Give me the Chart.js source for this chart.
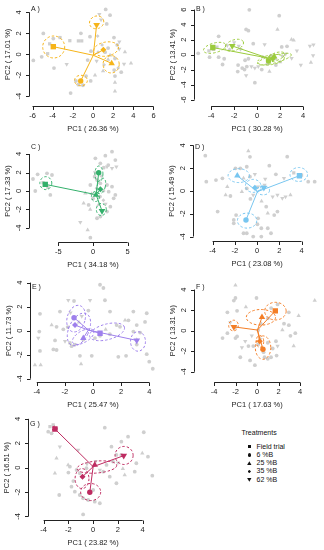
<!DOCTYPE html>
<html>
<head>
<meta charset="utf-8">
<script src="https://cdn.jsdelivr.net/npm/chart.js@4/dist/chart.umd.min.js"></script>
<style>
  body { margin: 0; background: #fff; width: 324px; height: 550px; position: relative; overflow: hidden;
         font-family: "Liberation Sans", Arial, sans-serif; }
  canvas { position: absolute; }
  #legend { position: absolute; left: 0; top: 0; color: #111; font-size: 7px; }
  #legend div { position: absolute; white-space: nowrap; line-height: 8px; }
  #legend span { position: absolute; background: #111; }
</style>
</head>
<body>
<div id="legend"></div>
<script>
// treatments, in the order used by every centroid list below
const treatments = ['Field trial', '6 %B', '25 %B', '35 %B', '62 %B'];
const panelIds = ['A', 'B', 'C', 'D', 'E', 'F', 'G'];
const pc1Pct = ['26.36', '30.28', '34.18', '23.08', '25.47', '17.63', '23.82'];
const pc2Pct = ['17.01', '13.41', '17.33', '15.49', '11.73', '13.31', '16.51'];

// tick labels
const ticksA_x = [-6, -4, -2, 0, 2, 4, 6];
const ticksB_y = [-6, -4, -2, 0, 2, 4, 6];
const ticksC_x = [-5, 0, 5];
const ticks4 = [-4, -2, 0, 2, 4];

// samples: [PC1, PC2, treatment index]
const greyA = [[1.26,4.28,1],[0.63,3.82,4],[1.69,3.73,1],[0.8,3.3,4],[1.36,2.9,1],[-4.93,1.99,1],[-0.3,1.68,1],[-3.94,1.5,1],
  [-3.27,1.6,0],[-1.45,1.28,0],[-1.12,1.28,0],[0.46,1.74,3],[2.08,1.6,1],[2.61,1.19,4],[-5.09,-0.24,1],[-5.92,-0.58,1],
  [-4.5,0.06,0],[-2.61,-0.95,4],[-0.53,-0.55,1],[0.36,-0.64,4],[1.69,-0.09,2],[3.17,0.21,2],[2.18,-0.4,1],[3.08,-0.92,4],
  [3.77,-0.86,2],[2.5,-1.3,3],[2.1,-1.5,1],[-3.87,-1.31,1],[0.2,-1.99,2],[-0.69,-2.08,1],[-1.69,-2.54,1],[-0.23,-2.54,1],
  [-1.45,-2.9,1],[-1.0,-2.95,1],[2.18,-2.08,1],[2.18,-2.69,2],[2.18,-3.52,2],[-2.22,-3.7,1],[1.1,-1.0,3],[2.8,-1.7,1],
  [0.9,0.9,3],[1.5,0.6,1],[-0.2,0.3,1],[0.5,0.2,3],[1.2,0.2,1],[1.5,-0.5,2],[2.6,0.5,4],[1.0,-1.6,2],[2.4,0.9,1],
  [-1.2,2.0,1],[-2.3,1.3,0],[-4.3,1.0,0]];
const greyB = [[-0.68,5.96,1],[1.92,5.19,1],[-0.96,3.36,1],[-0.76,3.19,1],[1.77,3.36,2],[-3.35,2.43,1],[2.99,2.0,2],[3.18,1.9,2],
  [4.59,1.15,4],[4.9,1.3,4],[-5.13,0.17,1],[-4.2,0.51,0],[-4.14,-0.34,1],[-3.35,-0.34,1],[-2.87,-0.55,1],[-3.01,-1.32,1],
  [-2.4,0.7,3],[-1.6,1.15,4],[-1.45,0.7,4],[-0.34,1.45,1],[0.65,1.36,4],[2.14,1.02,1],[2.6,1.1,1],[3.46,0.51,4],
  [2.48,0.09,4],[4.87,-0.13,4],[4.68,-1.06,2],[3.8,-1.4,4],[-1.66,-1.4,1],[-1.3,-1.8,1],[-1.1,-2.0,1],[-0.9,-1.6,1],
  [-1.69,-2.26,1],[-0.5,-1.6,4],[-0.2,-1.8,4],[0.1,-1.6,4],[-0.96,-2.77,4],[-0.2,-3.74,1],[1.07,-2.26,2],[0.4,-2.0,1],
  [1.63,-1.4,1],[-0.76,-0.55,1],[-1.05,-0.75,1],[0.5,-0.3,3],[1.2,-0.1,3],[1.6,-0.6,2],[2.0,-1.0,2],[0.9,-1.2,1],
  [3.0,-0.5,4],[2.2,-0.2,3],[-3.8,0.7,0],[-3.5,1.0,0],[-2.0,1.6,4],[-2.6,1.2,4]];
const greyC = [[2.74,4.25,1],[1.78,3.82,1],[0.34,3.53,1],[3.22,3.35,1],[1.06,2.99,1],[2.02,2.63,4],[1.54,2.52,1],[3.37,2.63,4],
  [2.74,2.45,4],[2.2,2.8,1],[-7.98,1.8,1],[-6.63,1.91,1],[-5.91,1.73,1],[-8.65,1.3,1],[-8.32,0,1],[-6.15,-0.43,1],
  [-7.2,0.9,0],[-6.5,0.4,0],[0.24,1.55,1],[0.58,1.19,1],[1.06,0.83,1],[2.02,0.65,1],[2.74,0.47,1],[-0.38,0.65,1],
  [-1.1,-0.25,2],[-1.35,-1.33,2],[-0.63,-1.51,1],[2.98,-0.79,1],[3.22,-0.43,1],[2.5,-1.7,1],[2.02,-2.23,1],[1.06,-2.77,1],
  [0.58,-2.95,1],[-1.83,-3.39,4],[-0.77,-4.22,2],[-0.38,-5.05,1],[1.54,0.0,3],[2.26,-0.07,1],[1.5,-1.0,3],[0.0,-0.8,1],
  [0.8,-1.5,2],[-0.4,-2.0,2],[1.8,-1.4,4],[0.3,2.0,4],[1.2,1.6,3],[0.5,0.3,3],[-0.2,-0.3,2],[1.0,-0.6,1]];
const greyD = [[-4.66,3.1,1],[-0.79,3.51,2],[-0.64,3.0,1],[1.1,2.22,1],[2.71,3.01,1],[1.69,1.46,1],[-4.57,0.82,1],[-3.7,0.96,1],
  [-3.12,1.11,1],[-1.95,1.99,1],[-1.51,1.99,1],[-0.93,2.13,1],[-1.22,1.11,2],[-0.64,1.26,1],[-0.2,1.46,4],[0.73,1.05,4],
  [2.42,1.11,4],[-2.68,0.38,2],[-2.83,-0.35,2],[-2.4,-0.44,1],[-1.37,-0.06,2],[-0.93,0.23,1],[-0.35,-0.35,4],[0.09,0.38,4],
  [0.67,0.53,4],[1.4,-0.5,4],[1.83,-0.35,4],[2.27,-0.64,4],[2.56,-0.5,4],[3.0,-0.35,2],[4.6,0.82,1],[5.18,0.82,1],
  [4.0,1.4,0],[3.3,1.6,0],[-3.55,-1.81,1],[-1.89,-2.11,1],[-2.1,-2.54,1],[-2.1,-2.84,1],[0.09,-2.4,1],[0.03,-2.92,1],
  [0.38,-3.27,1],[0.96,-1.96,2],[1.54,-2.11,1],[1.83,-1.81,1],[-0.93,-3.71,1],[-1.22,-3.71,1],[-0.35,-4.0,1],[0.38,-4.0,1],
  [0.96,-3.27,1],[1.25,-3.71,1],[0.82,-1.38,1],[-0.6,-0.7,1],[0.4,-0.9,2]];
const greyE = [[0.5,3.82,1],[0.74,3.55,1],[-1.35,2.47,1],[-0.21,2.53,4],[-1.76,2.53,4],[0.85,2.53,1],[-3.77,1.4,1],[-2.35,1.59,1],
  [-0.33,1.67,1],[1.21,1.59,1],[2.87,1.59,1],[3.82,1.45,1],[-2.94,0.46,2],[-2.59,0.32,1],[-2.11,0.11,1],[-3.82,-0.08,1],
  [-3.89,-0.62,4],[-2.7,-0.81,1],[-1.99,-0.89,4],[1.68,0.46,1],[1.92,0.32,1],[2.28,0.86,2],[2.52,0.86,1],[3.11,0.46,1],
  [3.7,0.73,1],[2.87,-0.08,1],[3.35,-0.16,1],[-3.77,-1.69,1],[-2.82,-1.56,1],[-2.59,-1.61,1],[-0.93,-2.1,1],[-0.09,-2.1,1],
  [1.8,-2.18,1],[2.35,-2.1,1],[3.82,-1.96,1],[3.11,-0.75,2],[3.11,-1.16,1],[4.0,-2.58,1],[4.25,-3.17,1],[-4.13,-2.85,2],
  [-3.72,-2.85,2],[-0.85,-2.77,2],[-1.64,-1.02,1],[-1.52,-1.29,1],[-1.28,-1.16,1],[-0.69,-0.75,1],[0.14,-0.62,1],[0.5,-0.43,1],
  [1.2,-0.3,1],[0.9,0.1,2],[-1.8,0.3,1],[-1.0,0.7,2],[-1.6,1.5,4],[-0.8,1.2,4]];
const greyF = [[-2.02,4.42,2],[-2.02,3.18,1],[-2.17,2.93,1],[-1.05,2.31,2],[-0.06,3.18,1],[1.9,2.55,1],[-2.77,1.78,1],[-1.87,1.93,1],
  [2.95,1.78,1],[3.86,1.46,2],[5.36,2.93,2],[-3.22,-0.72,1],[-2.77,-0.25,1],[-1.87,-0.56,1],[-2.02,-0.72,1],[-1.11,-1.03,4],
  [-0.81,-1.5,1],[-1.42,-1.65,4],[-0.36,-1.5,1],[0.09,-1.34,1],[0.99,-1.18,1],[1.75,-1.03,1],[1.9,-1.5,4],[2.35,0.06,2],
  [2.5,0.68,1],[2.95,0.53,1],[3.1,-0.5,1],[3.55,-0.25,1],[-1.57,-2.59,1],[-0.66,-2.9,1],[-0.21,-3.36,1],[0.69,-2.59,1],
  [1.29,-2.59,1],[0.99,-2.74,1],[1.81,-2.43,1],[3.4,-1.5,2],[1.45,-1.74,1],[0.1,0.06,1],[0.4,0.68,2],[1.0,1.2,1],
  [1.3,2.2,1],[-0.5,-0.5,4],[0.3,-0.8,3],[0.6,-2.1,1],[-2.5,0.8,4],[-2.0,0.3,4]];
const greyG = [[-3.49,3.36,0],[-3.23,3.5,0],[-3.63,2.95,1],[-3.36,2.81,1],[0.94,3.28,1],[4.09,2.9,1],[2.82,2.54,1],[2.28,2.13,1],
  [-2.69,1.72,4],[-1.21,1.45,4],[-2.96,0.77,2],[-2.02,0.22,2],[-1.88,0.08,1],[-3.09,-0.46,2],[-1.34,-0.19,1],[-1.08,-0.46,1],
  [-0.54,-0.05,1],[0.54,-0.19,4],[0.81,-0.33,1],[1.08,0.22,1],[1.48,1.72,1],[1.88,1.04,1],[2.28,1.04,1],[3.49,0.36,1],
  [3.97,1.18,2],[4.43,0.9,1],[3.36,-0.33,1],[4.78,-0.66,1],[1.88,-1.28,1],[2.55,-0.6,2],[-2.74,-2.24,1],[-1.75,-1.56,1],
  [-1.48,-1.97,1],[-1.08,-2.24,1],[-0.81,-2.51,1],[-0.4,-2.65,1],[0.13,-2.79,1],[0.54,-2.92,1],[-0.81,-3.83,1],[1.34,-0.74,1],
  [0.0,-1.83,1],[2.4,-0.1,2],[1.6,0.5,1],[0.2,0.5,4],[-0.5,0.3,4],[-2.0,-0.4,1],[-1.6,-1.1,1],[2.0,0.4,4]];

// treatment centroids [PC1, PC2], same order as treatments
const centA = [[-3.94,0.73],[-1.22,-2.54],[1.85,-0.86],[1.03,0.43],[0.36,2.81]];
const centB = [[-3.86,0.94],[0.99,-0.85],[1.49,-0.26],[1.35,-0.55],[-2.17,1.15]];
const centC = [[-6.88,0.72],[0.82,1.98],[0.43,-0.43],[1.06,0.18],[1.3,-2.16]];
const centD = [[3.81,1.34],[-1.0,-2.55],[-1.78,1.34],[-0.2,0.29],[0.61,0.29]];
const centE = [[0.5,-0.22],[-1.35,1.08],[-0.69,-0.62],[-1.28,0.46],[3.11,-0.81]];
const centF = [[1.69,1.93],[0.54,-1.81],[0.45,1.31],[0.24,-1.03],[-2.17,0.37]];
const centG = [[-3.09,3.17],[-0.27,-2.02],[0.13,0.22],[-0.86,-0.74],[2.47,0.98]];

// overall centre each spider line starts from
const midA = [0.03,-0.09], midB = [0.9,-0.45], midC = [0.45,-0.4], midD = [0.03,-0.06];
const midE = [-0.33,0.05], midF = [0.03,0.06], midG = [0.0,0.08];

// dispersion ellipses: [centre PC1, centre PC2, radius PC1, radius PC2, tilt deg]
const ellA = [[-3.9,0.7,1.09,1.05,0],[0.36,3.05,0.72,0.6,-20],[-1.2,-2.5,0.64,0.5,0],[1.3,0.5,1.24,0.67,-10],[1.8,-0.95,0.8,0.83,0]];
const ellB = [[-2.0,1.25,0.85,0.7,-20],[-3.7,0.9,1.0,0.64,-15],[1.5,-0.6,1.52,0.51,-15],[1.2,-0.7,1.18,0.64,-10],[1.6,-0.3,0.85,0.51,-20]];
const ellC = [[-6.8,0.85,0.86,0.7,0],[0.85,1.85,0.58,0.86,0],[1.2,0.55,0.58,0.86,15],[1.2,-2.0,0.72,0.65,0],[0.35,-0.6,0.58,0.54,0]];
const ellD = [[3.75,1.45,0.79,0.61,0],[-1.65,1.35,0.96,0.61,0],[-0.35,0.45,0.7,0.57,0],[0.55,0.05,0.57,0.39,0],[-0.9,-2.6,0.87,0.66,0]];
const ellE = [[-1.2,1.0,0.64,1.13,15],[-1.0,0.1,0.71,1.45,25],[-0.7,-0.5,0.85,0.48,-30],[1.0,-0.1,1.28,0.65,-15],[3.2,-0.9,0.53,0.81,0]];
const ellF = [[1.7,1.9,1.0,0.86,0],[0.35,1.3,1.36,0.76,0],[-2.2,0.5,0.45,0.52,0],[0.55,-1.65,0.72,1.14,0],[0.25,-1.05,0.36,0.57,0]];
const ellG = [[2.5,1.0,0.73,0.74,0],[-0.2,-2.0,0.81,0.7,0],[0.3,0.05,1.61,0.49,-5],[-0.9,-0.9,0.56,0.82,0],[-3.1,3.2,0.2,0.2,0]];

// ---- styling / layout ----
const FONT = '"Liberation Sans", Arial, sans-serif';
const GREY = '#CFCFCF';
const shapes = ['rect', 'circle', 'triangle', 'rectRot', 'triangle'];
const greyRad = [2.3, 1.9, 2.5, 1.9, 2.5];
const centRad = [3.8, 2.7, 3.7, 3.0, 3.9];

const panels = [
  { grey: greyA, cent: centA, mid: midA, ell: ellA, color: '#F6B418', xt: ticksA_x, yt: ticks4,
    box: [0, 0, 162, 135], pad: [29, 0, 5, 29], xlim: [-6.35, 6.35], ylim: [-4.93, 4.8], labelY: 9.5 },
  { grey: greyB, cent: centB, mid: midB, ell: ellB, color: '#9BCB3C', xt: ticks4, yt: ticksB_y,
    box: [162, 0, 162, 135], pad: [32.3, 0, 0.3, 29.5], xlim: [-5.47, 5.47], ylim: [-6.78, 6.74], labelY: 9.5 },
  { grey: greyC, cent: centC, mid: midC, ell: ellC, color: '#33B06B', xt: ticksC_x, yt: ticks4,
    box: [0, 135, 162, 140], pad: [29.3, 4.7, 5.3, 32.7], xlim: [-9.18, 9.18], ylim: [-5.55, 5.55], labelY: 12 },
  { grey: greyD, cent: centD, mid: midD, ell: ellD, color: '#78C6F0', xt: ticks4, yt: ticks4,
    box: [162, 135, 162, 140], pad: [31.3, 6, 0.2, 34], xlim: [-5.74, 5.66], ylim: [-4.39, 4.39], labelY: 11.7 },
  { grey: greyE, cent: centE, mid: midE, ell: ellE, color: '#9E80EC', xt: ticks4, yt: ticks4,
    box: [0, 275, 162, 135], pad: [30, 0.7, 6, 27.7], xlim: [-4.48, 4.48], ylim: [-4.3, 4.3], labelY: 11.7 },
  { grey: greyF, cent: centF, mid: midF, ell: ellF, color: '#F47E26', xt: ticks4, yt: ticks4,
    box: [162, 275, 162, 135], pad: [32.3, 1.7, 0.3, 27.7], xlim: [-5.85, 5.85], ylim: [-5.03, 5.03], labelY: 11.7 },
  { grey: greyG, cent: centG, mid: midG, ell: ellG, color: '#BE2B61', xt: ticks4, yt: ticks4,
    box: [0, 405, 162, 145], pad: [28.3, 10.8, 3.7, 30.5], xlim: [-5.24, 5.24], ylim: [-4.25, 4.25], labelY: 19 }
];

// ellipses go right after the grey cloud, axes in R style after everything
function rDecor(p, i) {
  return {
    id: 'rDecor' + i,
    afterDatasetDraw(chart, args) {
      if (args.index !== 0) return;
      const { ctx, scales: { x, y } } = chart;
      ctx.save();
      ctx.strokeStyle = p.color;
      ctx.lineWidth = 1;
      ctx.setLineDash([2.5, 2]);
      p.ell.forEach(e => {
        const cx = x.getPixelForValue(e[0]), cy = y.getPixelForValue(e[1]);
        const rx = Math.abs(x.getPixelForValue(e[0] + e[2]) - cx);
        const ry = Math.abs(y.getPixelForValue(e[1] + e[3]) - cy);
        ctx.beginPath();
        ctx.ellipse(cx, cy, rx, ry, e[4] * Math.PI / 180, 0, 2 * Math.PI);
        ctx.stroke();
      });
      ctx.restore();
    },
    afterDraw(chart) {
      const { ctx, chartArea: a, scales: { x, y } } = chart;
      const xt = p.xt, yt = p.yt;
      const by = Math.round(a.bottom) + 0.5;
      const lx = Math.round(a.left) + 0.5;
      ctx.save();
      ctx.strokeStyle = '#222';
      ctx.fillStyle = '#222';
      ctx.lineWidth = 1;
      ctx.beginPath();
      ctx.moveTo(x.getPixelForValue(xt[0]), by);
      ctx.lineTo(x.getPixelForValue(xt[xt.length - 1]), by);
      xt.forEach(v => {
        const px = Math.round(x.getPixelForValue(v)) + 0.5;
        ctx.moveTo(px, by); ctx.lineTo(px, by + 3.5);
      });
      ctx.moveTo(lx, y.getPixelForValue(yt[0]));
      ctx.lineTo(lx, y.getPixelForValue(yt[yt.length - 1]));
      yt.forEach(v => {
        const py = Math.round(y.getPixelForValue(v)) + 0.5;
        ctx.moveTo(lx, py); ctx.lineTo(lx - 3.5, py);
      });
      ctx.stroke();

      ctx.font = '7.5px ' + FONT;
      ctx.textAlign = 'center';
      ctx.textBaseline = 'middle';
      xt.forEach(v => ctx.fillText(String(v), x.getPixelForValue(v), by + 9.5));
      yt.forEach(v => {
        ctx.save();
        ctx.translate(lx - 10.5, y.getPixelForValue(v));
        ctx.rotate(-Math.PI / 2);
        ctx.fillText(String(v), 0, 0);
        ctx.restore();
      });
      ctx.fillText('PC1 ( ' + pc1Pct[i] + ' %)', x.getPixelForValue(0), by + 22);
      ctx.save();
      ctx.translate(lx - 21.5, y.getPixelForValue(0));
      ctx.rotate(-Math.PI / 2);
      ctx.fillText('PC2 ( ' + pc2Pct[i] + ' %)', 0, 0);
      ctx.restore();

      ctx.font = '7px ' + FONT;
      ctx.textAlign = 'left';
      ctx.fillText(panelIds[i] + ' )', lx + 1.5, p.labelY);
      ctx.restore();
    }
  };
}

panels.forEach((p, i) => {
  const cv = document.createElement('canvas');
  cv.width = p.box[2];
  cv.height = p.box[3];
  cv.style.left = p.box[0] + 'px';
  cv.style.top = p.box[1] + 'px';
  document.body.appendChild(cv);

  const datasets = [];
  datasets.push({
    data: p.grey.map(d => ({ x: d[0], y: d[1], s: d[2] })),
    order: 3,
    backgroundColor: GREY,
    borderWidth: 0,
    pointStyle: c => (c.raw ? shapes[c.raw.s] : 'circle'),
    pointRotation: c => (c.raw && c.raw.s === 4 ? 180 : 0),
    pointRadius: c => (c.raw ? greyRad[c.raw.s] : 2)
  });
  p.cent.forEach(c => {
    datasets.push({
      data: [{ x: p.mid[0], y: p.mid[1] }, { x: c[0], y: c[1] }],
      order: 1,
      showLine: true,
      borderColor: p.color,
      borderWidth: 1,
      pointRadius: 0
    });
  });
  datasets.push({
    data: p.cent.map((c, k) => ({ x: c[0], y: c[1], s: k })),
    order: 0,
    backgroundColor: p.color,
    borderWidth: 0,
    pointStyle: c => (c.raw ? shapes[c.raw.s] : 'circle'),
    pointRotation: c => (c.raw && c.raw.s === 4 ? 180 : 0),
    pointRadius: c => (c.raw ? centRad[c.raw.s] : 3)
  });

  new Chart(cv, {
    type: 'scatter',
    data: { datasets },
    options: {
      responsive: false,
      animation: false,
      events: [],
      layout: { padding: { left: p.pad[0], top: p.pad[1], right: p.pad[2], bottom: p.pad[3] } },
      scales: {
        x: { type: 'linear', min: p.xlim[0], max: p.xlim[1], display: false },
        y: { type: 'linear', min: p.ylim[0], max: p.ylim[1], display: false }
      },
      plugins: { legend: { display: false }, tooltip: { enabled: false } }
    },
    plugins: [rDecor(p, i)]
  });
});

// legend block (bottom right)
const legendShapes = [
  'width:3.5px;height:3.5px;',
  'width:3.6px;height:3.6px;border-radius:50%;',
  'width:4.6px;height:4px;clip-path:polygon(50% 0,100% 100%,0 100%);',
  'width:3.4px;height:3.4px;clip-path:polygon(50% 0,100% 50%,50% 100%,0 50%);',
  'width:4.6px;height:4px;clip-path:polygon(0 0,100% 0,50% 100%);'
];
const lg = document.getElementById('legend');
const head = document.createElement('div');
head.textContent = 'Treatments';
head.style.left = '241.5px';
head.style.top = '428.7px';
lg.appendChild(head);
treatments.forEach((t, k) => {
  const cy = 446.7 + k * 8.25;
  const row = document.createElement('div');
  row.textContent = t;
  row.style.left = '256.5px';
  row.style.top = (cy - 4) + 'px';
  lg.appendChild(row);
  const sym = document.createElement('span');
  sym.style.cssText = legendShapes[k];
  const w = parseFloat(sym.style.width), h = parseFloat(sym.style.height);
  sym.style.left = (249.3 - w / 2) + 'px';
  sym.style.top = (cy - h / 2) + 'px';
  lg.appendChild(sym);
});
</script>
</body>
</html>
